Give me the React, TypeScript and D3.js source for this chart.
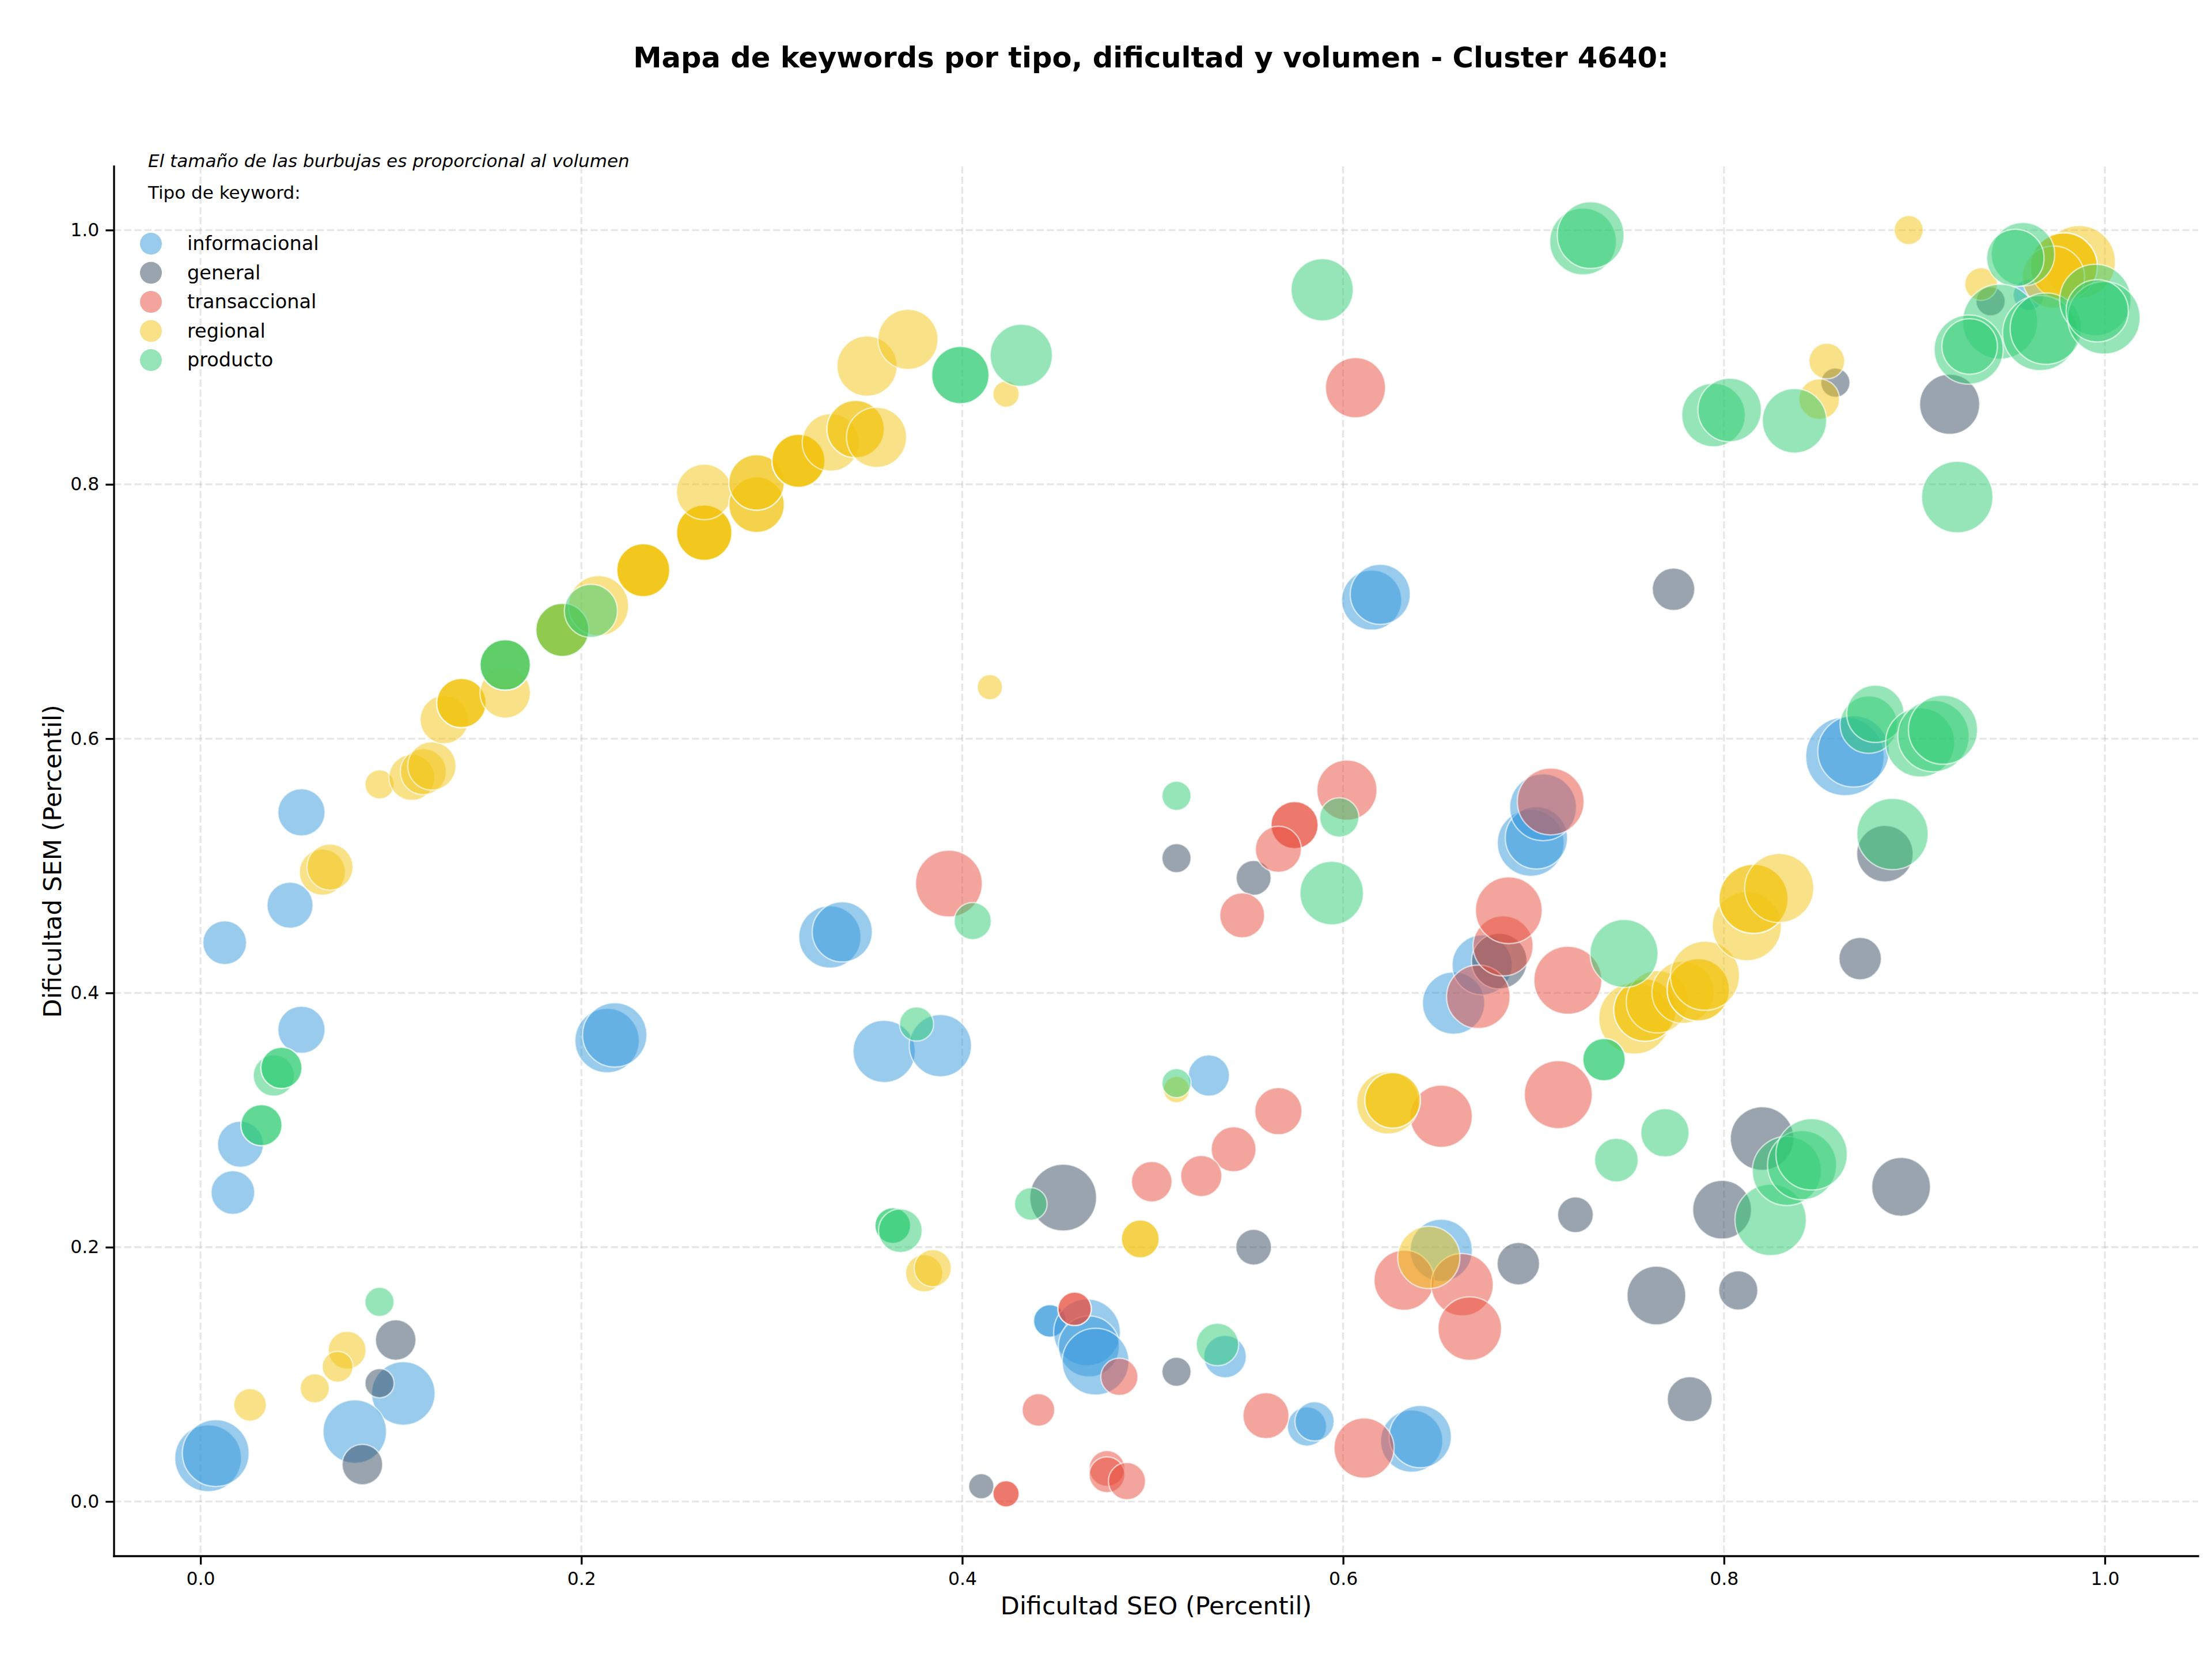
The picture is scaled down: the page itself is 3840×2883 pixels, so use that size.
import React, { useEffect, useRef } from 'react';
import * as d3 from 'd3';

// [dificultad SEO, dificultad SEM, volumen]
type Punto = [number, number, number];

const informacional: Punto[] = [
  [0.004, 0.034, 840], [0.008, 0.038, 840], [0.1065, 0.085, 760], [0.081, 0.055, 760],
  [0.017, 0.243, 360], [0.021, 0.281, 400], [0.053, 0.371, 420], [0.2135, 0.3625, 780],
  [0.2175, 0.367, 780], [0.0127, 0.4395, 360], [0.047, 0.469, 400], [0.053, 0.542, 420],
  [0.615, 0.709, 680], [0.6195, 0.7135, 680], [0.3305, 0.444, 730], [0.337, 0.448, 680],
  [0.359, 0.354, 730], [0.3885, 0.3585, 730], [0.5295, 0.335, 320], [0.446, 0.142, 200],
  [0.446, 0.142, 200], [0.4655, 0.133, 840], [0.4665, 0.122, 700], [0.47, 0.11, 840],
  [0.538, 0.114, 340], [0.581, 0.059, 290], [0.585, 0.063, 290], [0.636, 0.0475, 730],
  [0.6405, 0.051, 730], [0.6515, 0.1975, 730], [0.658, 0.392, 730], [0.673, 0.422, 680],
  [0.6985, 0.518, 840], [0.7015, 0.522, 730], [0.705, 0.546, 840], [0.8635, 0.586, 1160],
  [0.868, 0.59, 960], [0.96, 0.949, 180],
];

const general: Punto[] = [
  [0.1025, 0.127, 310], [0.094, 0.093, 160], [0.085, 0.029, 310], [0.41, 0.012, 120],
  [0.5125, 0.102, 160], [0.453, 0.239, 840], [0.553, 0.2, 240], [0.5125, 0.506, 160],
  [0.553, 0.4905, 230], [0.682, 0.425, 580], [0.692, 0.187, 340], [0.722, 0.2255, 240],
  [0.7645, 0.162, 650], [0.8075, 0.166, 290], [0.782, 0.0805, 380], [0.799, 0.2295, 650],
  [0.82, 0.2855, 760], [0.893, 0.2475, 650], [0.8715, 0.427, 340], [0.8845, 0.5095, 600],
  [0.7735, 0.7175, 340], [0.9185, 0.863, 680], [0.8585, 0.88, 160], [0.94, 0.944, 160],
];

const transaccional: Punto[] = [
  [0.393, 0.486, 840], [0.6065, 0.876, 680], [0.602, 0.5595, 680], [0.5745, 0.532, 420],
  [0.5745, 0.532, 420], [0.566, 0.513, 400], [0.547, 0.461, 380], [0.566, 0.307, 420],
  [0.5425, 0.277, 380], [0.5255, 0.256, 320], [0.4995, 0.2515, 310], [0.459, 0.1515, 210],
  [0.459, 0.1515, 210], [0.4825, 0.098, 260], [0.44, 0.072, 200], [0.423, 0.006, 130],
  [0.423, 0.006, 130], [0.476, 0.026, 240], [0.476, 0.021, 240], [0.4865, 0.016, 260],
  [0.5595, 0.0675, 400], [0.611, 0.042, 680], [0.6515, 0.303, 730], [0.632, 0.174, 680],
  [0.6625, 0.1705, 730], [0.6665, 0.136, 760], [0.671, 0.397, 760], [0.684, 0.437, 680],
  [0.687, 0.465, 840], [0.709, 0.5505, 840], [0.718, 0.41, 870], [0.713, 0.32, 870],
];

const regional: Punto[] = [
  [0.026, 0.076, 200], [0.06, 0.089, 160], [0.077, 0.119, 270], [0.072, 0.106, 180],
  [0.064, 0.495, 400], [0.068, 0.499, 400], [0.094, 0.564, 160], [0.111, 0.5695, 400],
  [0.117, 0.574, 400], [0.1215, 0.5785, 440], [0.128, 0.615, 440], [0.137, 0.628, 460],
  [0.137, 0.628, 460], [0.137, 0.628, 460], [0.16, 0.636, 480], [0.16, 0.658, 480],
  [0.16, 0.658, 480], [0.19, 0.6855, 530], [0.19, 0.6855, 530], [0.19, 0.6855, 530],
  [0.209, 0.7045, 680], [0.2325, 0.7325, 530], [0.2325, 0.7325, 530], [0.2325, 0.7325, 530],
  [0.2325, 0.7325, 530], [0.2645, 0.762, 580], [0.2645, 0.762, 580], [0.2645, 0.762, 580],
  [0.2645, 0.762, 580], [0.2645, 0.794, 580], [0.292, 0.784, 580], [0.292, 0.784, 580],
  [0.292, 0.8015, 580], [0.292, 0.8015, 580], [0.314, 0.8185, 530], [0.314, 0.8185, 530],
  [0.314, 0.8185, 530], [0.314, 0.8185, 530], [0.331, 0.833, 620], [0.344, 0.8435, 620],
  [0.344, 0.8435, 620], [0.355, 0.837, 680], [0.35, 0.893, 680], [0.3715, 0.914, 680],
  [0.423, 0.871, 130], [0.4145, 0.6405, 120], [0.5125, 0.324, 130], [0.4935, 0.2065, 270],
  [0.4935, 0.2065, 270], [0.38, 0.1795, 260], [0.3845, 0.1835, 260], [0.6235, 0.3135, 730],
  [0.626, 0.3155, 580], [0.626, 0.3155, 580], [0.645, 0.192, 730], [0.753, 0.38, 960],
  [0.7585, 0.3865, 730], [0.7585, 0.3865, 730], [0.765, 0.393, 730], [0.7785, 0.4005, 730],
  [0.7865, 0.4025, 730], [0.7865, 0.4025, 730], [0.79, 0.4135, 900], [0.812, 0.4525, 900],
  [0.8155, 0.474, 900], [0.8155, 0.474, 900], [0.829, 0.4825, 900], [0.854, 0.897, 240],
  [0.85, 0.867, 310], [0.897, 1.0, 160], [0.935, 0.9575, 200], [0.9865, 0.975, 990],
  [0.9785, 0.9715, 840], [0.9785, 0.9715, 840], [0.9785, 0.9715, 840], [0.973, 0.963, 730],
];

const producto: Punto[] = [
  [0.094, 0.157, 160], [0.032, 0.296, 320], [0.032, 0.296, 320], [0.0385, 0.335, 320],
  [0.0425, 0.341, 320], [0.0425, 0.341, 320], [0.16, 0.658, 480], [0.16, 0.658, 480],
  [0.19, 0.6855, 530], [0.205, 0.7005, 530], [0.399, 0.886, 620], [0.399, 0.886, 620],
  [0.431, 0.9015, 730], [0.589, 0.953, 730], [0.376, 0.3755, 220], [0.4055, 0.4565, 260],
  [0.5125, 0.555, 160], [0.598, 0.538, 290], [0.594, 0.4785, 760], [0.5125, 0.329, 160],
  [0.436, 0.234, 200], [0.3635, 0.217, 240], [0.3635, 0.217, 240], [0.3675, 0.213, 360],
  [0.534, 0.1235, 340], [0.7475, 0.431, 870], [0.737, 0.3475, 340], [0.737, 0.3475, 340],
  [0.769, 0.29, 440], [0.7435, 0.2685, 360], [0.8245, 0.2215, 960], [0.833, 0.26, 900],
  [0.841, 0.2645, 900], [0.846, 0.273, 960], [0.8885, 0.525, 960], [0.876, 0.611, 620],
  [0.8795, 0.6195, 620], [0.903, 0.597, 900], [0.91, 0.602, 960], [0.915, 0.607, 900],
  [0.9225, 0.79, 960], [0.7945, 0.8545, 760], [0.803, 0.8585, 760], [0.837, 0.85, 780],
  [0.726, 0.991, 840], [0.73, 0.996, 840], [0.957, 0.981, 760], [0.953, 0.978, 620],
  [0.945, 0.928, 1060], [0.9285, 0.906, 900], [0.929, 0.9085, 580],
  [0.966, 0.919, 1060], [0.969, 0.9225, 960], [0.995, 0.945, 960], [0.9995, 0.931, 990],
  [0.996, 0.9365, 730],
];

const tipos = ['informacional', 'general', 'transaccional', 'regional', 'producto'];
const colores = ['#3498db', '#34495e', '#e74c3c', '#f1c40f', '#2ecc71'];
const series = [informacional, general, transaccional, regional, producto];
const ticks = [0, 0.2, 0.4, 0.6, 0.8, 1.0];

const W = 3840;
const H = 2883;
const left = 198, right = 3816, top = 289, bottom = 2701;
const FONT = 'DejaVu Sans, sans-serif';

export default function App() {
  const xAxisRef = useRef<SVGGElement>(null);
  const yAxisRef = useRef<SVGGElement>(null);

  const x = d3.scaleLinear().domain([-0.0454, 1.049]).range([left, right]);
  const y = d3.scaleLinear().domain([-0.043, 1.05]).range([bottom, top]);
  const r = d3.scaleSqrt().domain([0, 1000]).range([0, 63.2]);

  useEffect(() => {
    const fmt = d3.format('.1f');
    const gx = d3.select(xAxisRef.current!)
      .call(d3.axisBottom(x).tickValues(ticks).tickFormat(fmt as any).tickSizeOuter(0).tickSize(14.6).tickPadding(13));
    const gy = d3.select(yAxisRef.current!)
      .call(d3.axisLeft(y).tickValues(ticks).tickFormat(fmt as any).tickSizeOuter(0).tickSize(14.6).tickPadding(11));
    [gx, gy].forEach((g) => {
      g.attr('font-family', FONT).attr('font-size', 31.5);
      g.select('.domain').remove();
      g.selectAll('.tick line').attr('stroke', '#000').attr('stroke-width', 3.3);
      g.selectAll('.tick text').attr('fill', '#000');
    });
  }, []);

  return (
    <svg width={W} height={H} style={{ position: 'absolute', left: 0, top: 0, background: '#fff' }}>
      <rect width={W} height={H} fill="#fff" />

      {/* rejilla */}
      <g stroke="#b0b0b0" strokeOpacity={0.3} strokeWidth={3.3} strokeDasharray="12.3,5.3">
        {ticks.map((t) => (
          <line key={'gx' + t} x1={x(t)} x2={x(t)} y1={top} y2={bottom} />
        ))}
        {ticks.map((t) => (
          <line key={'gy' + t} x1={left} x2={right} y1={y(t)} y2={y(t)} />
        ))}
      </g>

      {/* burbujas */}
      {series.map((puntos, i) => (
        <g key={tipos[i]} fill={colores[i]} fillOpacity={0.5} stroke="#fff" strokeOpacity={0.6} strokeWidth={2.5}>
          {puntos.map((p, j) => (
            <circle key={j} cx={x(p[0])} cy={y(p[1])} r={r(p[2])} />
          ))}
        </g>
      ))}

      {/* ejes: solo izquierda y abajo */}
      <g ref={xAxisRef} transform={`translate(0,${bottom})`} />
      <g ref={yAxisRef} transform={`translate(${left},0)`} />
      <line x1={left} x2={left} y1={top} y2={bottom} stroke="#000" strokeWidth={3.3} strokeLinecap="square" />
      <line x1={left} x2={right} y1={bottom} y2={bottom} stroke="#000" strokeWidth={3.3} strokeLinecap="square" />

      <text x={1998} y={117} textAnchor="middle" fontFamily={FONT} fontWeight="bold" fontSize={49.6}>
        Mapa de keywords por tipo, dificultad y volumen - Cluster 4640:
      </text>
      <text x={(left + right) / 2} y={2802} textAnchor="middle" fontFamily={FONT} fontSize={43}>
        Dificultad SEO (Percentil)
      </text>
      <text transform={`translate(106,${(top + bottom) / 2}) rotate(-90)`} textAnchor="middle" fontFamily={FONT} fontSize={43}>
        Dificultad SEM (Percentil)
      </text>

      {/* leyenda */}
      <text x={257} y={290} fontFamily={FONT} fontStyle="italic" fontSize={31}>
        El tamaño de las burbujas es proporcional al volumen
      </text>
      <text x={257} y={345} fontFamily={FONT} fontSize={31}>
        Tipo de keyword:
      </text>
      {tipos.map((t, i) => (
        <g key={'ley' + t}>
          <circle cx={262} cy={423 + i * 50.5} r={19} fill={colores[i]} fillOpacity={0.5} />
          <text x={325} y={423 + i * 50.5 + 11} fontFamily={FONT} fontSize={33.5}>
            {t}
          </text>
        </g>
      ))}
    </svg>
  );
}
